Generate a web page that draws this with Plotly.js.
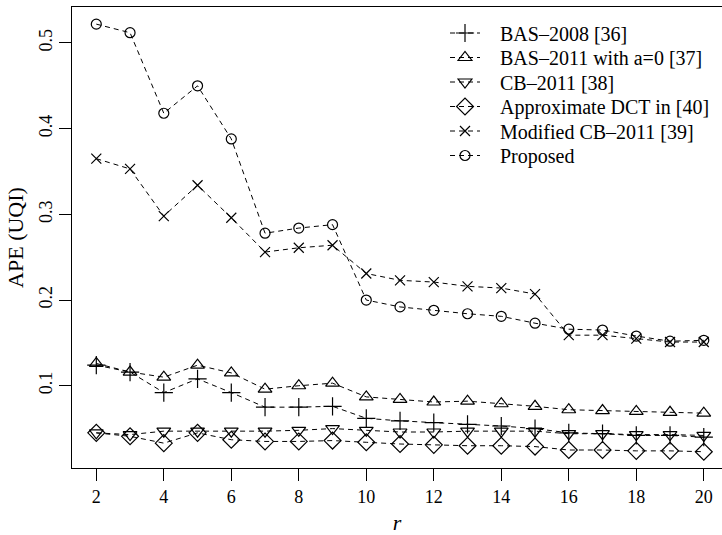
<!DOCTYPE html>
<html>
<head>
<meta charset="utf-8">
<script src="https://cdn.plot.ly/plotly-3.0.1.min.js"></script>
<style>html,body{margin:0;padding:0;background:#fff;}#chart{width:722px;height:535px;}</style>
</head>
<body>
<div id="chart"></div>
<script>
const r = [2,3,4,5,6,7,8,9,10,11,12,13,14,15,16,17,18,19,20];
const bas2008 = [0.124,0.116,0.092,0.108,0.092,0.075,0.075,0.076,0.062,0.059,0.057,0.055,0.053,0.050,0.045,0.044,0.042,0.042,0.040];
const bas2011 = [0.126,0.116,0.110,0.124,0.115,0.096,0.100,0.103,0.087,0.084,0.081,0.082,0.079,0.076,0.072,0.071,0.070,0.069,0.068];
const cb2011 = [0.045,0.043,0.047,0.047,0.047,0.047,0.048,0.050,0.048,0.046,0.046,0.047,0.047,0.047,0.044,0.044,0.043,0.043,0.042];
const approxDCT = [0.045,0.041,0.033,0.045,0.037,0.035,0.035,0.036,0.034,0.032,0.031,0.030,0.030,0.029,0.025,0.025,0.024,0.024,0.023];
const modCB2011 = [0.365,0.353,0.298,0.334,0.296,0.256,0.261,0.264,0.231,0.223,0.221,0.216,0.214,0.207,0.159,0.159,0.155,0.151,0.151];
const proposed = [0.522,0.512,0.418,0.450,0.388,0.278,0.284,0.288,0.200,0.192,0.188,0.184,0.181,0.173,0.166,0.165,0.158,0.152,0.153];

const names = ['BAS\u20132008 [36]','BAS\u20132011 with a=0 [37]','CB\u20132011 [38]','Approximate DCT in [40]','Modified CB\u20132011 [39]','Proposed'];
const series = [bas2008, bas2011, cb2011, approxDCT, modCB2011, proposed];
const symbols = ['cross-thin-open','triangle-up-open','triangle-down-open','diamond-open','x-thin-open','circle-open'];
const sizes = [13,12,12,13,10,10];
const legendIds = ['legend','legend2','legend3','legend4','legend5','legend6'];

const traces = series.map((ys,i)=>({
  x: r, y: ys, name: '\u00a0\u00a0\u00a0' + names[i], type:'scatter', mode:'lines+markers',
  legend: legendIds[i],
  line:{color:'#000', width:1, dash:'5px,4px'},
  marker:{symbol:symbols[i], size:sizes[i], color:'#000', line:{color:'#000', width:1.2}}
}));

const plotTop = 7, plotBottom = 468;
const legendRowsPx = [33, 57.5, 82, 106.5, 131, 155.5];

const layout = {
  width:722, height:535,
  margin:{l:72, r:0, t:plotTop, b:535-plotBottom},
  paper_bgcolor:'#fff', plot_bgcolor:'#fff',
  font:{family:'"Liberation Serif", "Times New Roman", serif', size:18, color:'#000'},
  showlegend:true,
  xaxis:{range:[1.28, 20.54], tickvals:[2,4,6,8,10,12,14,16,18,20], ticks:'outside', ticklen:12, tickwidth:1, tickcolor:'#000',
    showline:true, mirror:true, linecolor:'#000', linewidth:1, showgrid:false, zeroline:false,
    title:{text:'<i>r</i>', standoff:12}},
  yaxis:{range:[0.004, 0.542], tickvals:[0.1,0.2,0.3,0.4,0.5], ticktext:['0.1','0.2','0.3','0.4','0.5'], tickangle:-90,
    ticks:'outside', ticklen:12, tickwidth:1, tickcolor:'#000',
    showline:true, mirror:false, linecolor:'#000', linewidth:1, showgrid:false, zeroline:false,
    title:{text:'APE (UQI)', standoff:6}}
};
legendIds.forEach((id,i)=>{
  layout[id] = {x:(445-72)/650, xanchor:'left', y:(plotBottom-legendRowsPx[i])/(plotBottom-plotTop), yanchor:'middle',
    bgcolor:'rgba(0,0,0,0)', borderwidth:0, font:{size:20}};
});
Plotly.newPlot('chart', traces, layout, {displayModeBar:false, staticPlot:true});
</script>
</body>
</html>
